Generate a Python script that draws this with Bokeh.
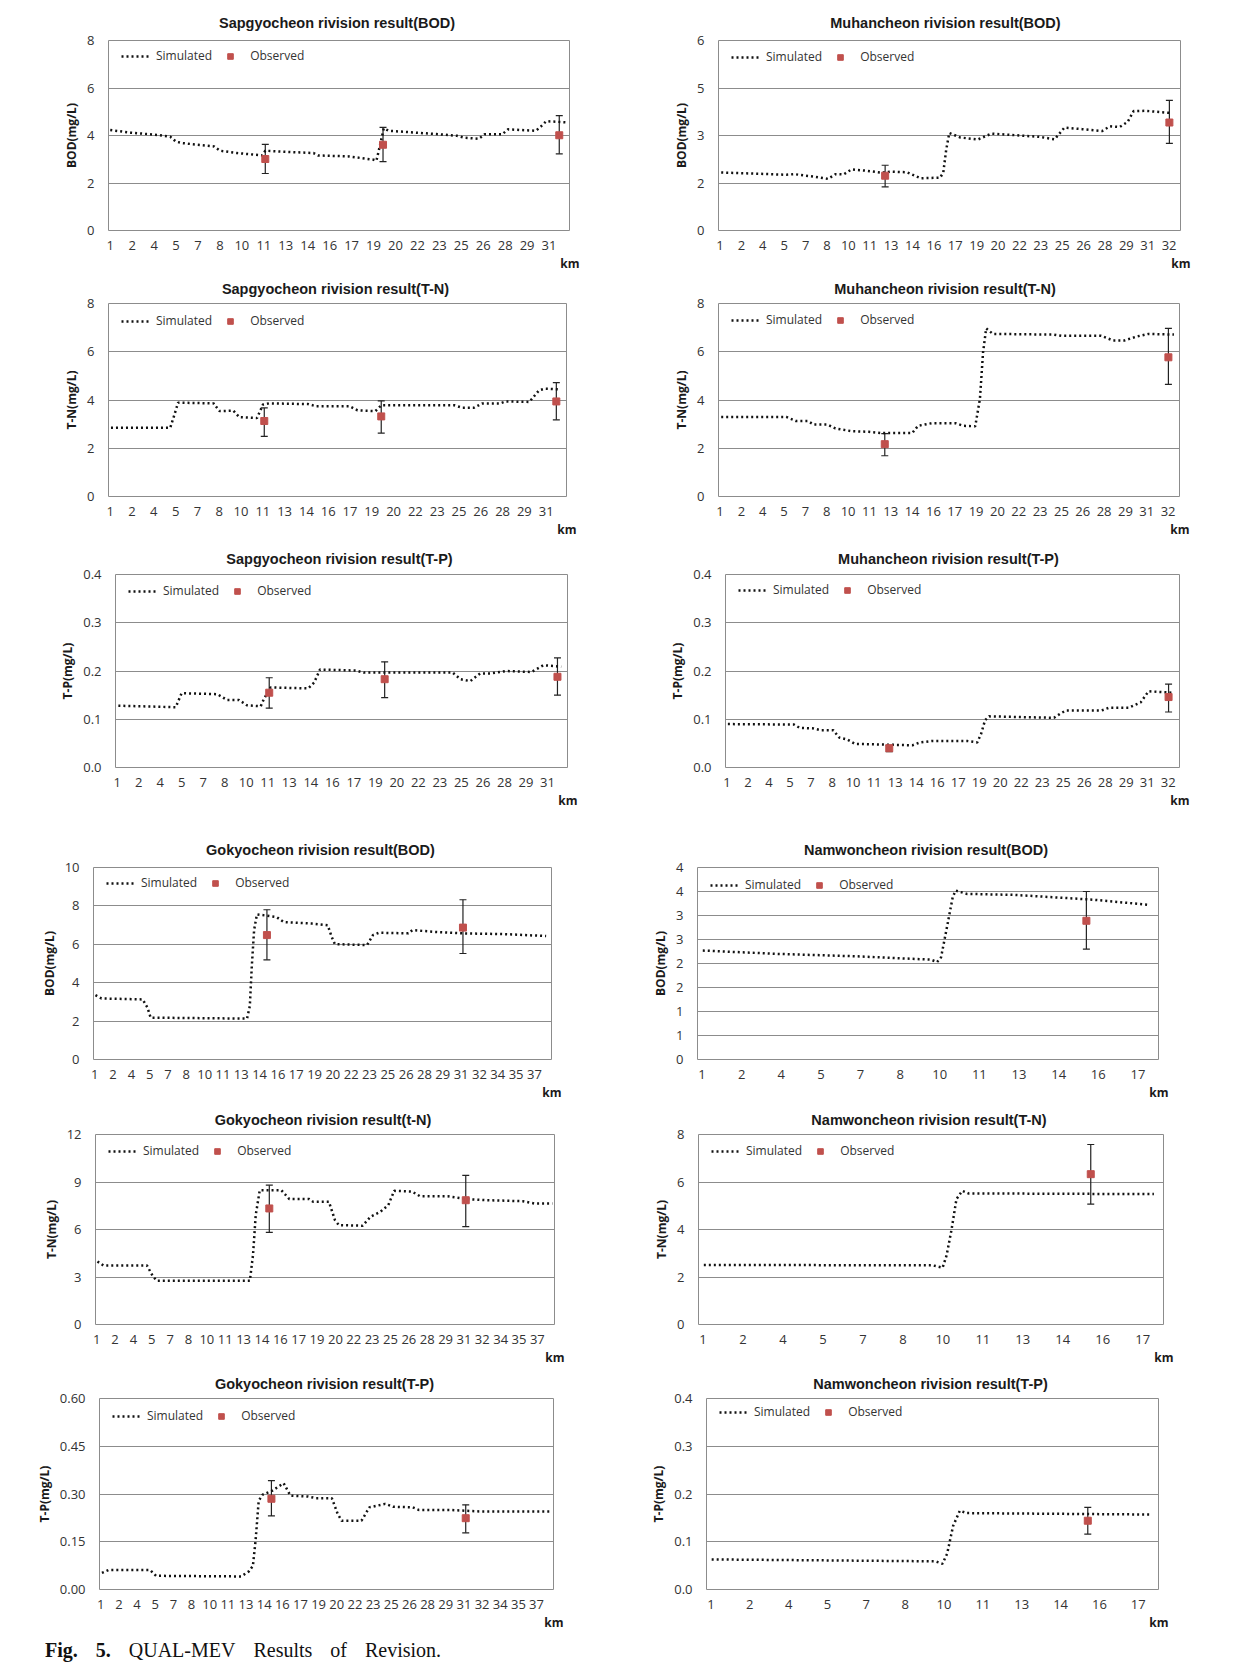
from bokeh.plotting import figure
from bokeh.models import (Range1d, FixedTicker, Legend, LegendItem, Whisker, TeeHead,
                          ColumnDataSource, Title, Div)
from bokeh.layouts import column, row
from bokeh.embed import file_html
from bokeh.resources import INLINE

FONT = "Open Sans"
TITLE_FONT = "Liberation Sans"

# ---------------- x tick labels (km) ----------------
sap_xlabels = ["1", "2", "4", "5", "7", "8", "10", "11", "13", "14", "16", "17", "19", "20",
               "22", "23", "25", "26", "28", "29", "31"]
muh_xlabels = sap_xlabels + ["32"]
gok_xlabels = sap_xlabels + ["32", "34", "35", "37"]
nam_xlabels = ["1", "2", "4", "5", "7", "8", "10", "11", "13", "14", "16", "17"]

# ---------------- y ticks ----------------
yt_0_8 = [0, 2, 4, 6, 8]
yl_0_8 = ["0", "2", "4", "6", "8"]
yt_tp4 = [0, 0.1, 0.2, 0.3, 0.4]
yl_tp4 = ["0.0", "0.1", "0.2", "0.3", "0.4"]
yt_muh_bod = [0, 1.5, 3, 4.5, 6]
yl_muh_bod = ["0", "2", "3", "5", "6"]
yt_gok_bod = [0, 2, 4, 6, 8, 10]
yl_gok_bod = ["0", "2", "4", "6", "8", "10"]
yt_gok_tn = [0, 3, 6, 9, 12]
yl_gok_tn = ["0", "3", "6", "9", "12"]
yt_gok_tp = [0, 0.15, 0.3, 0.45, 0.6]
yl_gok_tp = ["0.00", "0.15", "0.30", "0.45", "0.60"]
yt_nam_bod = [0, 0.5, 1, 1.5, 2, 2.5, 3, 3.5, 4]
yl_nam_bod = ["0", "1", "1", "2", "2", "3", "3", "4", "4"]

# ---------------- Sapgyocheon ----------------
sap_obs_km = [11.6, 19.65, 31.7]
sap_bod_km = [1.0, 2.4, 4.3, 5.1, 5.5, 5.94, 8.1, 8.5, 9.7, 11.4, 11.6, 12.46, 14.9, 15.2, 17.3,
              19.0, 19.2, 19.5, 19.7, 20.06, 23.3, 24.7, 25.2, 26.2, 26.6, 27.8, 28.2, 30.1,
              30.43, 30.8, 31.46, 32.3]
sap_bod_sim = [4.23, 4.12, 4.02, 3.95, 3.74, 3.68, 3.54, 3.36, 3.26, 3.16, 3.36, 3.33, 3.26, 3.16,
               3.12, 2.98, 2.94, 3.74, 4.30, 4.20, 4.06, 3.99, 3.91, 3.86, 4.05, 4.05, 4.26, 4.20,
               4.37, 4.60, 4.58, 4.55]
sap_bod_obs = [3.01, 3.61, 4.01]
sap_bod_lo = [2.40, 2.90, 3.23]
sap_bod_hi = [3.63, 4.34, 4.84]

sap_tn_km = [1.05, 5.13, 5.40, 5.67, 8.11, 8.52, 9.47, 9.88, 11.10, 11.51, 11.92, 14.63, 15.17,
             17.48, 18.02, 19.25, 19.65, 24.68, 25.22, 26.03, 26.58, 27.80, 28.21, 29.84, 30.51,
             30.92, 32.0]
sap_tn_sim = [2.85, 2.85, 3.36, 3.89, 3.86, 3.54, 3.56, 3.29, 3.25, 3.81, 3.86, 3.83, 3.74, 3.74,
              3.57, 3.54, 3.78, 3.78, 3.68, 3.68, 3.85, 3.85, 3.94, 3.92, 4.40, 4.47, 4.44]
sap_tn_obs = [3.13, 3.32, 3.94]
sap_tn_lo = [2.49, 2.63, 3.18]
sap_tn_hi = [3.67, 3.96, 4.72]

sap_tp_km = [1.08, 5.08, 5.49, 7.98, 8.66, 9.49, 10.04, 11.01, 11.23, 11.70, 14.32, 14.73, 15.14,
             17.63, 18.18, 24.38, 24.93, 25.62, 26.31, 27.00, 28.10, 29.89, 30.72, 31.96]
sap_tp_sim = [0.128, 0.125, 0.154, 0.152, 0.140, 0.140, 0.129, 0.127, 0.142, 0.166, 0.164, 0.176,
              0.203, 0.201, 0.197, 0.197, 0.183, 0.179, 0.195, 0.195, 0.200, 0.198, 0.212, 0.209]
sap_tp_obs = [0.155, 0.183, 0.188]
sap_tp_lo = [0.123, 0.145, 0.150]
sap_tp_hi = [0.186, 0.219, 0.227]

# ---------------- Muhancheon ----------------
muh_obs_km = [12.58, 32.52]
muh_bod_km = [1.08, 3.16, 5.65, 6.20, 7.59, 8.56, 9.11, 9.66, 10.22, 11.19, 12.29, 12.98, 14.09,
              15.06, 16.44, 16.66, 16.86, 17.08, 17.83, 19.07, 20.04, 21.70, 23.36, 24.47, 25.16,
              26.41, 27.79, 28.35, 29.04, 29.59, 30.01, 30.84, 32.64]
muh_bod_sim = [1.83, 1.80, 1.76, 1.78, 1.70, 1.63, 1.78, 1.77, 1.93, 1.89, 1.83, 1.86, 1.84, 1.65,
               1.67, 1.83, 2.54, 3.08, 2.94, 2.87, 3.06, 3.01, 2.96, 2.88, 3.25, 3.20, 3.14, 3.29,
               3.27, 3.43, 3.77, 3.78, 3.71]
muh_bod_obs = [1.73, 3.41]
muh_bod_lo = [1.38, 2.75]
muh_bod_hi = [2.06, 4.11]

muh_tn_km = [1.08, 5.65, 6.34, 7.17, 7.59, 8.56, 9.11, 10.22, 11.46, 12.29, 14.51, 14.92, 15.89,
             17.55, 18.10, 18.94, 19.27, 19.49, 19.71, 20.18, 24.47, 25.02, 27.79, 28.62, 29.45,
             30.28, 31.11, 32.91]
muh_tn_sim = [3.30, 3.30, 3.13, 3.13, 2.98, 2.98, 2.82, 2.71, 2.68, 2.63, 2.63, 2.93, 3.04, 3.04,
              2.93, 2.91, 4.05, 5.98, 6.97, 6.74, 6.71, 6.66, 6.66, 6.47, 6.47, 6.63, 6.74, 6.71]
muh_tn_obs = [2.17, 5.77]
muh_tn_lo = [1.69, 4.65]
muh_tn_hi = [2.61, 6.97]

muh_tp_km = [1.06, 5.78, 6.20, 7.19, 7.75, 8.59, 9.01, 9.58, 10.14, 14.22, 14.78, 15.62, 18.15,
             18.86, 19.14, 19.42, 19.70, 24.34, 24.76, 25.18, 27.72, 28.28, 29.68, 30.53, 31.09,
             32.78]
muh_tp_sim = [0.090, 0.089, 0.082, 0.081, 0.077, 0.077, 0.062, 0.058, 0.049, 0.046, 0.052, 0.055,
              0.055, 0.052, 0.070, 0.098, 0.106, 0.103, 0.111, 0.118, 0.118, 0.124, 0.124, 0.135,
              0.158, 0.155]
muh_tp_obs = [0.040, 0.146]
muh_tp_lo = [0.033, 0.115]
muh_tp_hi = [0.046, 0.173]

# ---------------- Gokyocheon ----------------
gok_obs_km = [15.1, 31.15]
gok_bod_km = [1.06, 1.55, 4.93, 5.32, 5.58, 13.47, 13.70, 13.86, 14.05, 14.28, 15.89, 16.47, 18.79,
              20.08, 20.40, 20.66, 23.30, 23.78, 24.27, 26.68, 27.01, 28.78, 31.04, 34.58, 37.96]
gok_bod_sim = [3.35, 3.18, 3.13, 2.70, 2.18, 2.13, 2.78, 4.85, 6.74, 7.56, 7.42, 7.16, 7.08, 6.99,
               6.39, 6.01, 5.96, 6.48, 6.60, 6.57, 6.74, 6.65, 6.57, 6.53, 6.43]
gok_bod_obs = [6.48, 6.87]
gok_bod_lo = [5.19, 5.52]
gok_bod_hi = [7.80, 8.32]

gok_tn_km = [1.06, 1.55, 5.10, 5.59, 5.91, 13.51, 13.77, 13.99, 14.32, 16.09, 16.74, 18.36, 18.68,
             19.97, 20.46, 20.78, 22.72, 23.37, 24.17, 24.82, 25.30, 26.76, 27.41, 29.67, 31.28,
             32.90, 35.81, 36.78, 38.23]
gok_tn_sim = [3.98, 3.73, 3.73, 3.04, 2.76, 2.76, 4.40, 6.91, 8.48, 8.48, 7.92, 7.92, 7.75, 7.75,
              6.60, 6.28, 6.24, 6.81, 7.12, 7.54, 8.44, 8.40, 8.10, 8.10, 7.92, 7.85, 7.79, 7.64,
              7.64]
gok_tn_obs = [7.33, 7.85]
gok_tn_lo = [5.82, 6.18]
gok_tn_hi = [8.80, 9.42]

gok_tp_km = [1.10, 1.65, 5.08, 5.57, 12.59, 13.24, 13.57, 13.79, 14.05, 14.38, 15.20, 16.11, 16.67,
             18.13, 18.79, 20.09, 20.58, 20.91, 22.54, 23.19, 24.50, 25.15, 26.78, 27.27, 29.88,
             30.86, 32.49, 38.21]
gok_tp_sim = [0.052, 0.061, 0.061, 0.043, 0.041, 0.057, 0.074, 0.153, 0.279, 0.298, 0.311, 0.334,
              0.295, 0.292, 0.287, 0.287, 0.237, 0.216, 0.216, 0.258, 0.269, 0.260, 0.258, 0.250,
              0.250, 0.248, 0.245, 0.245]
gok_tp_obs = [0.285, 0.224]
gok_tp_lo = [0.231, 0.178]
gok_tp_hi = [0.342, 0.266]

# ---------------- Namwoncheon ----------------
nam_obs_km = [15.55]
nam_bod_km = [1.03, 3.86, 6.84, 9.67, 9.90, 10.05, 10.27, 10.49, 10.60, 11.02, 12.80, 14.30, 15.79,
              17.95]
nam_bod_sim = [2.27, 2.20, 2.15, 2.08, 2.03, 2.13, 2.75, 3.38, 3.52, 3.45, 3.43, 3.38, 3.33, 3.22]
nam_bod_obs = [2.89]
nam_bod_lo = [2.30]
nam_bod_hi = [3.50]

nam_tn_km = [1.03, 9.62, 9.99, 10.14, 10.33, 10.51, 10.73, 10.96, 17.92]
nam_tn_sim = [2.51, 2.49, 2.39, 2.91, 4.02, 5.28, 5.63, 5.52, 5.49]
nam_tn_obs = [6.33]
nam_tn_lo = [5.07]
nam_tn_hi = [7.58]

nam_tp_km = [1.03, 9.67, 9.94, 10.12, 10.35, 10.61, 10.88, 17.96]
nam_tp_sim = [0.063, 0.059, 0.054, 0.075, 0.133, 0.165, 0.160, 0.157]
nam_tp_obs = [0.144]
nam_tp_lo = [0.116]
nam_tp_hi = [0.172]


def xticks_for(labels):
    return [1 + 1.5 * i for i in range(len(labels))]


def panel(title, ylab, km, sim, okm, obs, lo, hi, xlabels, xr, yt, yl, box):
    L, W, R, T, H, B = box
    p = figure(width=L + W + R, height=T + H + B,
               x_range=Range1d(*xr), y_range=Range1d(yt[0], yt[-1]),
               output_backend="svg", toolbar_location=None,
               min_border_left=L, min_border_right=R, min_border_top=T, min_border_bottom=B,
               title=title)
    p.title.align = "center"
    p.title.text_font = TITLE_FONT
    p.title.text_font_size = "14.5px"
    p.title.text_font_style = "bold"
    p.title.text_color = "#1a1a1a"
    p.title.text_line_height = 1.0
    p.title.standoff = max(12, min(19, T - 19))

    p.outline_line_color = "#8c8c8c"
    p.outline_line_width = 1
    p.xgrid.visible = False
    yticker = FixedTicker(ticks=yt)
    p.yaxis.ticker = yticker
    p.ygrid.ticker = yticker
    p.ygrid.grid_line_color = "#8c8c8c"
    p.ygrid.grid_line_width = 1

    xt = xticks_for(xlabels)
    p.xaxis.ticker = FixedTicker(ticks=xt)
    p.xaxis.major_label_overrides = dict(zip(xt, xlabels))
    p.yaxis.major_label_overrides = dict(zip(yt, yl))

    for ax in (p.xaxis, p.yaxis):
        ax.axis_line_color = None
        ax.major_tick_line_color = None
        ax.minor_tick_line_color = None
        ax.major_tick_out = 0
        ax.major_tick_in = 0
        ax.major_label_text_font = FONT
        ax.major_label_text_font_size = "13px"
        ax.major_label_text_color = "#333333"
    p.xaxis.major_label_standoff = 10
    p.yaxis.major_label_standoff = 14
    p.yaxis.axis_label = ylab
    p.yaxis.axis_label_text_font = FONT
    p.yaxis.axis_label_text_font_size = "12px"
    p.yaxis.axis_label_text_font_style = "bold"
    p.yaxis.axis_label_text_color = "#1a1a1a"
    p.yaxis.axis_label_standoff = 4

    ln = p.line(km, sim, line_color="#111111", line_width=2.5, line_dash="2 3")
    src = ColumnDataSource(dict(x=okm, lo=lo, hi=hi))
    wh = Whisker(source=src, base="x", lower="lo", upper="hi", dimension="height",
                 line_color="#222222", line_width=1.2,
                 upper_head=TeeHead(size=7, line_color="#222222", line_width=1.2),
                 lower_head=TeeHead(size=7, line_color="#222222", line_width=1.2))
    p.add_layout(wh)
    sc = p.scatter(okm, obs, marker="square", size=7, fill_color="#C0504D",
                   line_color="#C0504D")

    leg = Legend(items=[LegendItem(label="Simulated", renderers=[ln]),
                        LegendItem(label="Observed", renderers=[sc])],
                 location=(13, H - 26), orientation="horizontal",
                 border_line_color=None, background_fill_alpha=0,
                 label_text_font=FONT, label_text_font_size="12px",
                 label_text_color="#333333",
                 glyph_width=30, glyph_height=14, label_standoff=5, spacing=3,
                 margin=0, padding=8)
    p.add_layout(leg)

    p.add_layout(Title(text="km", align="right", text_font=FONT, text_font_size="12px",
                       text_font_style="bold", text_color="#1a1a1a", standoff=0, offset=-10),
                 "below")
    return p


SAP_X = (0.88, 32.4)
MUH_X = (0.89, 33.3)
GOK_X = (0.9, 38.4)
NAM_X = (0.83, 18.28)

# box = (left border, frame width, right border, top border, frame height, bottom border)
p1 = panel("Sapgyocheon  rivision result(BOD)", "BOD(mg/L)", sap_bod_km, sap_bod_sim, sap_obs_km,
           sap_bod_obs, sap_bod_lo, sap_bod_hi, sap_xlabels, SAP_X, yt_0_8, yl_0_8,
           (108, 461, 51, 38, 192, 41))
p2 = panel("Muhancheon   rivision result(BOD)", "BOD(mg/L)", muh_bod_km, muh_bod_sim, muh_obs_km,
           muh_bod_obs, muh_bod_lo, muh_bod_hi, muh_xlabels, MUH_X, yt_muh_bod, yl_muh_bod,
           (98, 462, 58, 40, 191, 40))
p3 = panel("Sapgyocheon  rivision result(T-N)", "T-N(mg/L)", sap_tn_km, sap_tn_sim, sap_obs_km,
           sap_tn_obs, sap_tn_lo, sap_tn_hi, sap_xlabels, SAP_X, yt_0_8, yl_0_8,
           (108, 458, 54, 32, 193, 43))
p4 = panel("Muhancheon   rivision result(T-N)", "T-N(mg/L)", muh_tn_km, muh_tn_sim, muh_obs_km,
           muh_tn_obs, muh_tn_lo, muh_tn_hi, muh_xlabels, MUH_X, yt_0_8, yl_0_8,
           (98, 461, 59, 32, 194, 42))
p5 = panel("Sapgyocheon  rivision result(T-P)", "T-P(mg/L)", sap_tp_km, sap_tp_sim, sap_obs_km,
           sap_tp_obs, sap_tp_lo, sap_tp_hi, sap_xlabels, SAP_X, yt_tp4, yl_tp4,
           (115, 452, 53, 34, 194, 62))
p6 = panel("Muhancheon   rivision result(T-P)", "T-P(mg/L)", muh_tp_km, muh_tp_sim, muh_obs_km,
           muh_tp_obs, muh_tp_lo, muh_tp_hi, muh_xlabels, MUH_X, yt_tp4, yl_tp4,
           (105, 454, 59, 35, 195, 60))
p7 = panel("Gokyocheon  rivision result(BOD)", "BOD(mg/L)", gok_bod_km, gok_bod_sim, gok_obs_km,
           gok_bod_obs, gok_bod_lo, gok_bod_hi, gok_xlabels, GOK_X, yt_gok_bod, yl_gok_bod,
           (93, 458, 69, 38, 194, 40))
p8 = panel("Namwoncheon  rivision result(BOD)", "BOD(mg/L)", nam_bod_km, nam_bod_sim, nam_obs_km,
           nam_bod_obs, nam_bod_lo, nam_bod_hi, nam_xlabels, NAM_X, yt_nam_bod, yl_nam_bod,
           (77, 461, 80, 38, 192, 42))
p9 = panel("Gokyocheon  rivision result(t-N)", "T-N(mg/L)", gok_tn_km, gok_tn_sim, gok_obs_km,
           gok_tn_obs, gok_tn_lo, gok_tn_hi, gok_xlabels, GOK_X, yt_gok_tn, yl_gok_tn,
           (95, 459, 66, 33, 191, 41))
p10 = panel("Namwoncheon  rivision result(T-N)", "T-N(mg/L)", nam_tn_km, nam_tn_sim, nam_obs_km,
            nam_tn_obs, nam_tn_lo, nam_tn_hi, nam_xlabels, NAM_X, yt_0_8, yl_0_8,
            (78, 465, 75, 32, 191, 42))
p11 = panel("Gokyocheon  rivision result(T-P)", "T-P(mg/L)", gok_tp_km, gok_tp_sim, gok_obs_km,
            gok_tp_obs, gok_tp_lo, gok_tp_hi, gok_xlabels, GOK_X, yt_gok_tp, yl_gok_tp,
            (99, 454, 67, 32, 191, 42))
p12 = panel("Namwoncheon  rivision result(T-P)", "T-P(mg/L)", nam_tp_km, nam_tp_sim, nam_obs_km,
            nam_tp_obs, nam_tp_lo, nam_tp_hi, nam_xlabels, NAM_X, yt_tp4, yl_tp4,
            (86, 452, 80, 32, 195, 38))

caption = Div(
    text=('<div style="font-family: \'Liberation Serif\', serif; font-size: 20px; '
          'color: #111; padding: 0 0 0 40px; word-spacing: 4px; white-space: nowrap;">'
          '<b>Fig.&nbsp; 5.</b>&nbsp; QUAL-MEV&nbsp; Results&nbsp; of&nbsp; Revision.</div>'),
    width=600, height=44)

layout = column(row(p1, p2), row(p3, p4), row(p5, p6), row(p7, p8), row(p9, p10),
                row(p11, p12), caption)

open("out.html", "w").write(file_html(layout, INLINE))
